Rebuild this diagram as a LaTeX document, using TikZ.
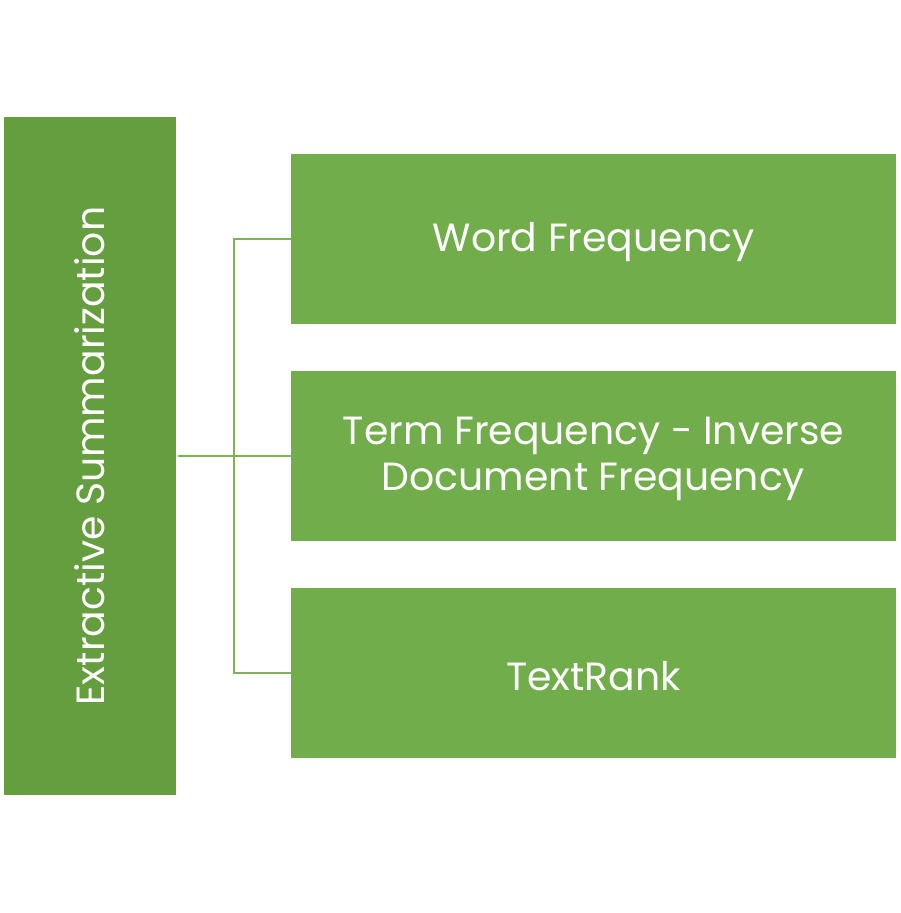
\documentclass[tikz,border=0pt]{standalone}
\usepackage{fontspec}
\setmainfont{Poppins}
\definecolor{rootgreen}{HTML}{659E3F}
\definecolor{leafgreen}{HTML}{71AD4B}
\definecolor{linkgreen}{HTML}{7DB356}
\begin{document}
\begin{tikzpicture}[x=0.75pt,y=-0.75pt,
  rootbox/.style={fill=rootgreen,draw=none,inner sep=0pt},
  leafbox/.style={fill=leafgreen,draw=none,inner sep=0pt,minimum width=605*0.75pt,minimum height=170*0.75pt},
  leaftext/.style={text=white,align=center,font=\fontsize{29.5}{34}\selectfont},
  link/.style={draw=linkgreen,line width=1.5pt}]
\useasboundingbox (0,0) rectangle (900,913);
\fill[white] (0,0) rectangle (900,913);
% root column
\node[rootbox,minimum width=172*0.75pt,minimum height=678*0.75pt] (root) at (90,456) {};
\node[rotate=90,text=white,font=\fontsize{29.5}{34}\selectfont] (rootlabel) at (90,456) {Extractive Summarization};
% method boxes
\node[leafbox] (wf) at (593.5,239) {};
\node[leafbox] (tfidf) at (593.5,456) {};
\node[leafbox] (tr) at (593.5,673) {};
\node[leaftext] (wflabel) at (593.5,242) {Word Frequency};
\node[leaftext] (tfidflabel) at (593.5,459) {Term Frequency - Inverse\\Document Frequency};
\node[leaftext] (trlabel) at (593.5,676) {TextRank};
% bracket connector
\coordinate (fork) at (234,456);
\draw[link] (root.east) ++(2,0) -- (fork);
\draw[link] (wf.west) -- (wf.west -| fork) -- (tr.west -| fork) -- (tr.west);
\draw[link] (fork) -- (tfidf.west);
\end{tikzpicture}
\end{document}
